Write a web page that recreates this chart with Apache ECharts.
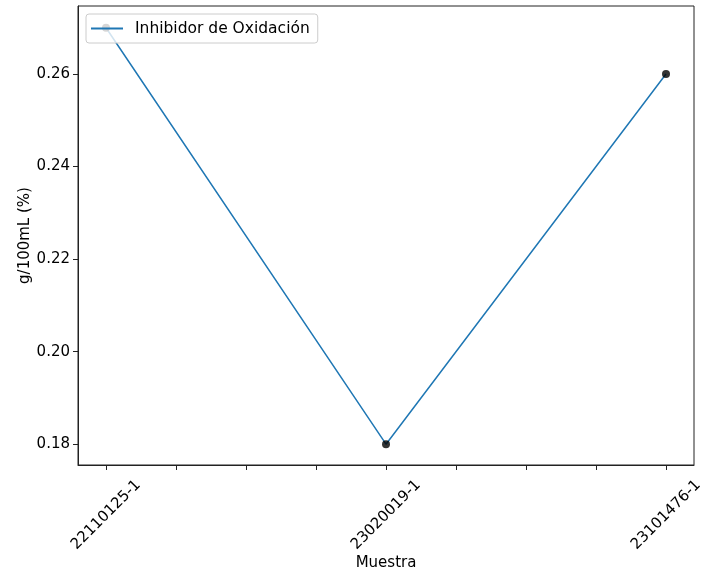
<!DOCTYPE html>
<html><head><meta charset="utf-8">
<script src="https://cdn.jsdelivr.net/npm/echarts@6/dist/echarts.min.js"></script>
<style>html,body{margin:0;padding:0;background:#fff}#c{width:718px;height:575px}</style>
</head><body><div id="c"></div>
<script>
const categories = ["22110125-1", "23020019-1", "23101476-1"];
const values = [0.27, 0.18, 0.26];
const yTicks = [0.18, 0.20, 0.22, 0.24, 0.26];
const xMinorTicks = [0, 0.25, 0.5, 0.75, 1, 1.25, 1.5, 1.75, 2];

const pts = values.map((v, i) => [i, v]);
const font = 'DejaVu Sans';
const fs = 15;
const chart = echarts.init(document.getElementById('c'), null, {renderer: 'canvas'});
chart.setOption({
  animation: false,
  grid: {left: 78, right: 24, top: 6, bottom: 110, show: true, borderColor: '#222', borderWidth: 1,
    backgroundColor: 'transparent', containLabel: false, outerBoundsMode: 'none'},
  legend: {
    left: 86, top: 14, padding: [6, 8, 6, 5],
    backgroundColor: 'rgba(255,255,255,0.8)', borderColor: '#ccc', borderWidth: 1, borderRadius: 3,
    icon: 'rect', itemWidth: 32, itemHeight: 2, itemGap: 10,
    textStyle: {fontFamily: font, fontSize: 15.5, color: '#000', lineHeight: 16, padding: [1, 0, 0, 7]},
    data: ['Inhibidor de Oxidación']
  },
  xAxis: {
    type: 'value', min: -0.1, max: 2.1,
    name: 'Muestra', nameLocation: 'middle', nameGap: 91, nameMoveOverlap: false,
    nameTextStyle: {fontFamily: font, fontSize: fs, color: '#000'},
    axisLine: {show: true, onZero: false, lineStyle: {color: '#222', width: 1}},
    axisTick: {show: true, length: 5, customValues: xMinorTicks, lineStyle: {color: '#222'}},
    axisLabel: {
      customValues: [0, 1, 2], rotate: 45, align: 'center', verticalAlign: 'middle', margin: 50,
      fontFamily: font, fontSize: fs, color: '#000',
      formatter: v => categories[Math.round(v)]
    },
    splitLine: {show: false}
  },
  yAxis: {
    type: 'value', min: 0.1755, max: 0.2747,
    name: 'g/100mL (%)', nameLocation: 'middle', nameGap: 45, nameRotate: 90, nameMoveOverlap: false,
    nameTextStyle: {fontFamily: font, fontSize: fs, color: '#000'},
    axisLine: {show: true, onZero: false, lineStyle: {color: '#222', width: 1}},
    axisTick: {show: true, length: 5, customValues: yTicks, lineStyle: {color: '#222'}},
    axisLabel: {customValues: yTicks, fontFamily: font, fontSize: fs, color: '#000', margin: 8,
      formatter: v => v.toFixed(2)},
    splitLine: {show: false}
  },
  series: [
    {name: 'Inhibidor de Oxidación', type: 'line', data: pts, symbol: 'none',
     lineStyle: {color: '#1f77b4', width: 1.5}, itemStyle: {color: '#1f77b4'}, z: 2},
    {name: 'pts', type: 'scatter', data: pts, symbol: 'circle', symbolSize: 8,
     itemStyle: {color: '#000'}, z: 3}
  ]
});
</script></body></html>
